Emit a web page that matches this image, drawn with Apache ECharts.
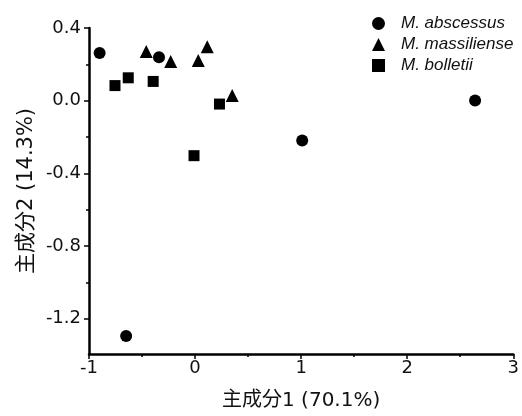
<!DOCTYPE html>
<html>
<head>
<meta charset="utf-8">
<script src="https://cdn.jsdelivr.net/npm/echarts@6/dist/echarts.min.js"></script>
<style>html,body{margin:0;padding:0;background:#fff}#c{width:522px;height:416px}</style>
</head>
<body>
<div id="c"></div>
<script>
var seriesNames = ['M. abscessus', 'M. massiliense', 'M. bolletii'];
var abscessus = [[-0.90, 0.262], [-0.34, 0.238], [2.64, 0.0], [1.01, -0.221], [-0.65, -1.30]];
var massiliense = [[-0.46, 0.27], [-0.23, 0.215], [0.03, 0.22], [0.115, 0.297], [0.35, 0.027]];
var bolletii = [[-0.755, 0.082], [-0.63, 0.125], [-0.395, 0.105], [0.23, -0.02], [-0.01, -0.305]];
var xTicks = [-1, 0, 1, 2, 3];
var yTicks = [-1.2, -0.8, -0.4, 0.0, 0.4];
var xTitle = '主成分1 (70.1%)';
var yTitle = '主成分2 (14.3%)';

var FONT = 'DejaVu Sans, Noto Sans CJK JP, sans-serif';
var chart = echarts.init(document.getElementById('c'));
var axisLine = {show: true, onZero: false, lineStyle: {color: '#000', width: 2.5}};
chart.setOption({
  animation: false,
  grid: [
    {left: 89, right: 6, top: 28, bottom: 61},
    {left: 89, right: 6, top: 28, bottom: 97.3}
  ],
  legend: {
    orient: 'vertical', left: 367, top: 10, itemWidth: 13, itemHeight: 13, itemGap: 4,
    data: [
      {name: seriesNames[0], icon: 'circle'},
      {name: seriesNames[1], icon: 'triangle'},
      {name: seriesNames[2], icon: 'rect'}
    ],
    textStyle: {fontFamily: 'Liberation Sans, Arial', fontStyle: 'italic', fontSize: 17, color: '#111', padding: [0, 0, 0, 11]}
  },
  xAxis: [
    {gridIndex: 0, type: 'value', min: xTicks[0], max: xTicks[xTicks.length - 1], interval: 1,
     axisLine: axisLine, splitLine: {show: false},
     axisTick: {show: true, length: 5, lineStyle: {color: '#000', width: 1.5}},
     minorTick: {show: true, splitNumber: 2, length: 3, lineStyle: {color: '#000', width: 1.5}},
     axisLabel: {fontFamily: FONT, fontSize: 18, color: '#111', margin: 5},
     name: xTitle, nameLocation: 'middle', nameGap: 37,
     nameTextStyle: {fontFamily: FONT, fontSize: 20, color: '#111'}},
    {gridIndex: 1, type: 'value', min: -1, max: 3, show: false}
  ],
  yAxis: [
    {gridIndex: 0, type: 'value', min: -1.4, max: 0.4,
     axisLine: axisLine, splitLine: {show: false}, axisTick: {show: false}, axisLabel: {show: false},
     name: yTitle, nameLocation: 'middle', nameGap: 52,
     nameTextStyle: {fontFamily: FONT, fontSize: 21, color: '#111'}},
    {gridIndex: 1, type: 'value', min: yTicks[0], max: yTicks[yTicks.length - 1], interval: 0.4,
     axisLine: {show: false, onZero: false}, splitLine: {show: false},
     axisTick: {show: true, length: 5, lineStyle: {color: '#000', width: 1.5}},
     minorTick: {show: true, splitNumber: 2, length: 3, lineStyle: {color: '#000', width: 1.5}},
     axisLabel: {fontFamily: FONT, fontSize: 18, color: '#111', margin: 8,
       formatter: function (v) { return v.toFixed(1); }}}
  ],
  series: [
    {name: seriesNames[0], type: 'scatter', xAxisIndex: 0, yAxisIndex: 0, symbol: 'circle', symbolSize: 12,
     itemStyle: {color: '#000', opacity: 1}, data: abscessus},
    {name: seriesNames[1], type: 'scatter', xAxisIndex: 0, yAxisIndex: 0, symbol: 'triangle', symbolSize: 13,
     itemStyle: {color: '#000', opacity: 1}, data: massiliense},
    {name: seriesNames[2], type: 'scatter', xAxisIndex: 0, yAxisIndex: 0, symbol: 'rect', symbolSize: 11,
     itemStyle: {color: '#000', opacity: 1}, data: bolletii}
  ]
});
</script>
</body>
</html>
